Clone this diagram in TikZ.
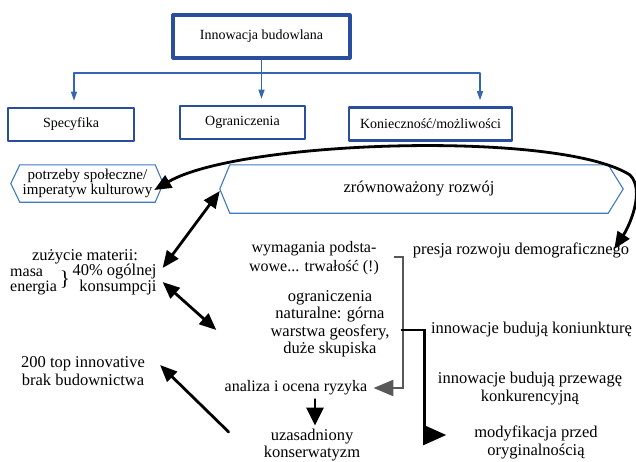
\documentclass[tikz,border=0pt]{standalone}
\usepackage{fontspec}
\setmainfont{Liberation Serif}
\usetikzlibrary{arrows.meta}

\definecolor{boxblue}{RGB}{42,78,158}
\definecolor{hexblue}{RGB}{62,122,192}
\definecolor{treeblue}{RGB}{52,102,178}
\definecolor{arrowgray}{RGB}{88,88,88}

\tikzset{
  boxline/.style={draw=boxblue, fill=white, inner sep=0pt, font=\fontsize{14}{16}\selectfont},
  topbox/.style={boxline, line width=3.2pt, minimum width=177pt, minimum height=43pt},
  subbox/.style={boxline, line width=2.6pt, minimum height=33pt},
  hexbox/.style={inner sep=0pt, align=center},
  hexline/.style={draw=hexblue, line width=1.1pt, line join=miter},
  treeline/.style={draw=treeblue, line width=1.3pt},
  treearrow/.style={treeline, -{Triangle[length=9pt,width=6pt]}, shorten >=6pt},
  txt/.style={inner sep=0pt, align=center, font=\fontsize{16.5}{17.5}\selectfont},
  fatarrow/.style={line width=2.8pt, -{Triangle[length=17pt,width=14pt]}},
  fatboth/.style={line width=2.8pt, {Triangle[length=17pt,width=14pt]}-{Triangle[length=17pt,width=14pt]}},
  grayarrow/.style={draw=arrowgray, line width=2.8pt, line cap=butt, line join=miter,
    -{Triangle[length=20pt,width=16pt]}},
  bracket/.style={line width=2.4pt, line cap=butt, line join=miter, -{Triangle[length=23pt,width=20pt]}},
}

\begin{document}
\begin{tikzpicture}[x=1pt, y=-1pt, line cap=round, line join=round]

  %% ════ 顶部：树 ════
  \node[topbox] (root) at (261.5,36.5) {Innowacja budowlana};
  \node[subbox, minimum width=126pt] (spec) at (71,124.5) {Specyfika};
  \node[subbox, minimum width=125pt] (ogr) at (242.5,122.5) {Ograniczenia};
  \node[subbox, minimum width=163pt] (kon) at (430.5,124) {Konieczność/możliwości};

  \coordinate (split) at (261.5,73);
  \draw[treeline] (root.south) -- (split);
  \draw[treearrow] (split) -| ([xshift=3pt]spec.north);
  \draw[treearrow] (split) -| ([xshift=49.5pt]kon.north);
  \draw[treearrow] (root.south) -- (root.south |- ogr.north);

  %% ════ 六边形 ════
  \node[hexbox, minimum width=135pt, minimum height=37pt, font=\fontsize{15}{15}\selectfont] (hexA) at (87.5,183.5)
    {potrzeby społeczne/\\imperatyw kulturowy};
  \node[hexbox, minimum width=378pt, minimum height=48pt, font=\fontsize{16.5}{17.5}\selectfont] (hexB) at (419,189)
    {zrównoważony rozwój};
  \draw[hexline] ([xshift=-9pt]hexA.west) -- (hexA.north west) -- (hexA.north east)
    -- ([xshift=8pt]hexA.east) -- (hexA.south east) -- (hexA.south west) -- cycle;
  \draw[hexline] ([xshift=-10pt]hexB.west) -- (hexB.north west) -- (hexB.north east)
    -- ([xshift=15pt]hexB.east) -- (hexB.south east) -- (hexB.south west) -- cycle;

  %% ════ 文字 ════
  \node[txt] (zuz) at (85,257) {zużycie materii:};
  \node[txt, anchor=west, font=\fontsize{16}{17}\selectfont] (masa) at (10,272.5) {masa};
  \node[txt, anchor=west, font=\fontsize{16}{17}\selectfont] (energia) at (10,288) {energia};
  \node[inner sep=0pt, font=\fontsize{21}{21}\selectfont] (zbrace) at (65,280) {\}};
  \node[txt, align=right, font=\fontsize{16.5}{14.5}\selectfont] (pct) at (114.5,280) {40\% ogólnej\\konsumpcji};
  \node[txt] (top200) at (83,371) {200 top innovative\\brak budownictwa};

  \node[txt, font=\fontsize{16}{19}\selectfont] (wym) at (314,258.5) {wymagania podsta-\\wowe... trwałość (!)};
  \node[txt] (ogrnat) at (330,324) {ograniczenia\\naturalne: górna\\warstwa geosfery,\\duże skupiska};
  \node[txt, font=\fontsize{16}{17.5}\selectfont] (analiza) at (296,388) {analiza i ocena ryzyka};
  \node[txt] (uzas) at (312,445) {uzasadniony\\konserwatyzm};

  \node[txt] (presja) at (521,250) {presja rozwoju demograficznego};
  \node[txt] (inkon) at (531.5,330) {innowacje budują koniunkturę};
  \node[txt] (inprz) at (530,388.5) {innowacje budują przewagę\\konkurencyjną};
  \node[txt] (mod) at (536,442.5) {modyfikacja przed\\oryginalnością};

  %% ════ 箭头 ════
  \draw[fatboth] ([xshift=-1pt,yshift=-6.5pt]hexA.east) .. controls (240,140) and (560,130) .. (630,175)
    .. controls (645,190) and (630,225) .. ([xshift=-15pt,yshift=1pt]presja.east);
  \draw[fatboth] ([xshift=-10pt,yshift=-2pt]hexB.west) -- ([xshift=6pt,yshift=12pt]pct.east);
  \draw[fatboth] ([xshift=6pt,yshift=-2pt]pct.east) -- ([xshift=-54pt,yshift=-6pt]ogrnat.west);
  \draw[fatarrow] ([xshift=-35pt,yshift=13pt]uzas.west) -- ([xshift=15pt,yshift=6pt]top200.east);
  \draw[fatarrow, -{Triangle[length=18pt,width=17pt]}] ([xshift=19pt,yshift=-4pt]analiza.south)
    -- ([xshift=3pt,yshift=3pt]uzas.north);

  \draw[grayarrow] ([xshift=15pt,yshift=1.5pt]wym.east) -- ++(9,0) |- ([xshift=6pt]analiza.east);
  \coordinate (modtip) at ([xshift=-28pt,yshift=7.5pt]mod.west);
  \draw[bracket] ([xshift=11pt,yshift=-6pt]ogrnat.east) -- ++(24,0) |- (modtip);

  \pgfresetboundingbox
  \path[use as bounding box] (0,0) rectangle (636,461);
\end{tikzpicture}
\end{document}
